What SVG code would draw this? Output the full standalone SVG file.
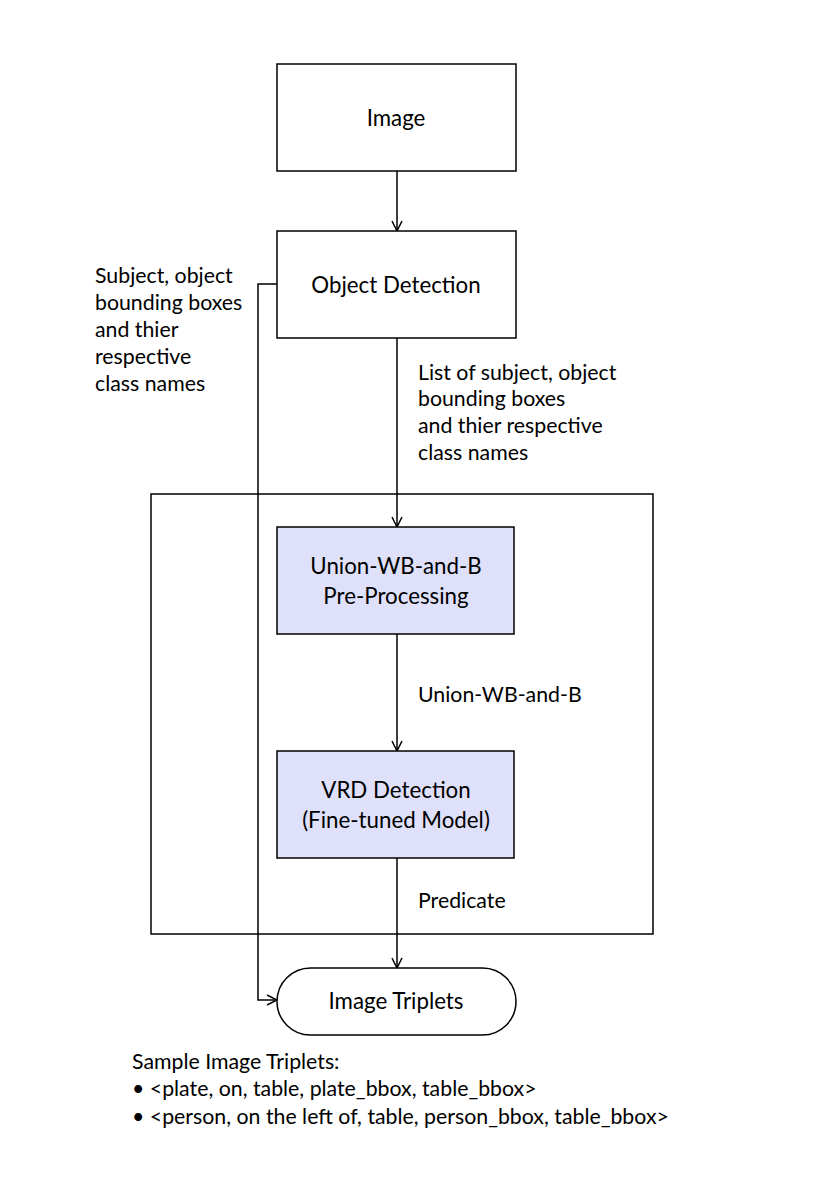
<svg xmlns="http://www.w3.org/2000/svg" width="830" height="1179" viewBox="0 0 830 1179">
<defs>
<style>
text{font-family:Lato,"Liberation Sans",sans-serif;fill:#000}
.n{font-size:22.3px;text-anchor:middle}
.l{font-size:21.3px}
.box{fill:#fff;stroke:#000;stroke-width:1.5}
.blue{fill:#dfe1fb;stroke:#000;stroke-width:1.5}
.c{fill:none;stroke:#000;stroke-width:1.5}
</style>
<marker id="ah" viewBox="0 0 12 12" refX="11" refY="6" markerWidth="12" markerHeight="12" markerUnits="userSpaceOnUse" orient="auto">
<path d="M1,1 L11,6 L1,11" fill="none" stroke="#000" stroke-width="1.5"/>
</marker>
</defs>
<rect width="830" height="1179" fill="#fff"/>
<g id="container"><rect x="151" y="494" width="502" height="440" fill="none" stroke="#000" stroke-width="1.5"/></g>
<g id="connectors">
<line class="c" x1="397" y1="171" x2="397" y2="231" marker-end="url(#ah)"/>
<line class="c" x1="397" y1="338" x2="397" y2="527" marker-end="url(#ah)"/>
<line class="c" x1="397" y1="634" x2="397" y2="751" marker-end="url(#ah)"/>
<line class="c" x1="397" y1="858" x2="397" y2="968" marker-end="url(#ah)"/>
<polyline class="c" points="277,284 258,284 258,1000 277,1000" marker-end="url(#ah)"/>
</g>
<g id="image"><rect class="box" x="277" y="64" width="239" height="107"/><text class="n" x="396" y="126">Image</text></g>
<g id="object-detection"><rect class="box" x="277" y="231" width="239" height="107"/><text class="n" x="396" y="293">Object Detection</text></g>
<g id="union"><rect class="blue" x="277" y="527" width="237" height="107"/><text class="n" x="396" y="574">Union-WB-and-B</text><text class="n" x="396" y="604">Pre-Processing</text></g>
<g id="vrd"><rect class="blue" x="277" y="751" width="237" height="107"/><text class="n" x="396" y="798">VRD Detection</text><text class="n" x="396" y="828">(Fine-tuned Model)</text></g>
<g id="triplets"><rect class="box" x="277" y="968" width="239" height="67" rx="33.5" ry="33.5"/><text class="n" x="396" y="1009">Image Triplets</text></g>
<g id="labels">
<text class="l" x="95" y="283">Subject, object</text>
<text class="l" x="95" y="310">bounding boxes</text>
<text class="l" x="95" y="337">and thier</text>
<text class="l" x="95" y="364">respective</text>
<text class="l" x="95" y="391">class names</text>
<text class="l" x="418" y="380">List of subject, object</text>
<text class="l" x="418" y="406">bounding boxes</text>
<text class="l" x="418" y="433">and thier respective</text>
<text class="l" x="418" y="460">class names</text>
<text class="l" x="418" y="702">Union-WB-and-B</text>
<text class="l" x="418" y="908">Predicate</text>
</g>
<g id="notes">
<text class="l" x="132" y="1069">Sample Image Triplets:</text>
<text class="l" x="132" y="1096">• &lt;plate, on, table, plate_bbox, table_bbox&gt;</text>
<text class="l" x="132" y="1124">• &lt;person, on the left of, table, person_bbox, table_bbox&gt;</text>
</g>
</svg>
